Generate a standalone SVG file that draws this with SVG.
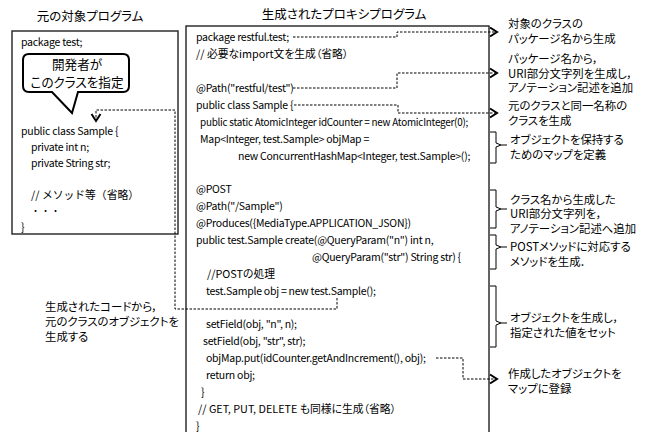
<svg xmlns="http://www.w3.org/2000/svg" width="653" height="432" viewBox="0 0 653 432">
<style>
text{font-family:"Noto Sans CJK JP","Noto Sans",sans-serif;fill:#000;font-feature-settings:"palt";}
.code{font-size:10.5px;letter-spacing:-0.25px;}
.jcode{font-size:10.8px;}
.title{font-size:12.5px;text-anchor:middle;}
.note{font-size:11.4px;}
.call{font-size:12.6px;text-anchor:middle;}
.dots{font-size:9px;font-feature-settings:normal;letter-spacing:1px;}
.box{fill:none;stroke:#222;stroke-width:1.4;}
.dash{fill:none;stroke:#000;stroke-width:1;stroke-dasharray:2.5 1.5;}
.brace{fill:none;stroke:#000;stroke-width:1;}
</style>
<defs>
<marker id="arr" markerUnits="userSpaceOnUse" markerWidth="12" markerHeight="12" viewBox="0 0 12 12" refX="9" refY="6" orient="auto">
<path d="M2,1.5 L9,6 L2,10.5" fill="none" stroke="#000" stroke-width="2"/>
</marker>
</defs>
<rect width="653" height="432" fill="#fff"/>

<g id="original-program">
<text class="title" x="90" y="21">元の対象プログラム</text>
<rect class="box" x="12" y="31" width="166" height="203"/>
<text class="code" x="21" y="46">package test;</text>
<text class="code" x="21" y="135">public class Sample {</text>
<text class="code" x="31" y="151">private int n;</text>
<text class="code" x="31" y="167">private String str;</text>
<text class="jcode" x="31" y="199" style="font-feature-settings:normal">// メソッド等（省略）</text>
<text class="dots" x="31" y="214">・・・</text>
<text class="code" x="21" y="231">}</text>
</g>

<g id="callout">
<path d="M29,54 H123 Q129,54 129,60 V86 Q129,92 123,92 H78 L72,113 L52,92 H29 Q23,92 23,86 V60 Q23,54 29,54 Z" fill="#fff" stroke="#000" stroke-width="2"/>
<text class="call" x="77" y="68.5">開発者が</text>
<text class="call" x="77" y="86.5">このクラスを指定</text>
</g>

<g id="proxy-program">
<text class="title" x="344" y="19">生成されたプロキシプログラム</text>
<rect class="box" x="186" y="26" width="303" height="420"/>
<text class="code" x="196" y="41">package restful.test;</text>
<text class="jcode" x="196" y="58">// 必要なimport文を生成（省略）</text>
<text class="code" x="196" y="92">@Path("restful/test")</text>
<text class="code" x="196" y="109">public class Sample {</text>
<text class="code" x="200" y="126" textLength="268" lengthAdjust="spacingAndGlyphs">public static AtomicInteger idCounter = new AtomicInteger(0);</text>
<text class="code" x="200" y="143">Map&lt;Integer, test.Sample&gt; objMap =</text>
<text class="code" x="238" y="160">new ConcurrentHashMap&lt;Integer, test.Sample&gt;();</text>
<text class="code" x="196" y="193">@POST</text>
<text class="code" x="196" y="210">@Path("/Sample")</text>
<text class="code" x="196" y="227">@Produces({MediaType.APPLICATION_JSON})</text>
<text class="code" x="196" y="244">public test.Sample create(@QueryParam("n") int n,</text>
<text class="code" x="312" y="261">@QueryParam("str") String str) {</text>
<text class="jcode" x="207" y="278">//POSTの処理</text>
<text class="code" x="206" y="295">test.Sample obj = new test.Sample();</text>
<text class="code" x="206" y="328">setField(obj, "n", n);</text>
<text class="code" x="203" y="345">setField(obj, "str", str);</text>
<text class="code" x="206" y="362">objMap.put(idCounter.getAndIncrement(), obj);</text>
<text class="code" x="206" y="379">return obj;</text>
<text class="code" x="201" y="396">}</text>
<text class="jcode" x="198" y="413">// GET, PUT, DELETE も同様に生成（省略）</text>
<text class="code" x="196" y="430">}</text>
</g>

<g id="note-package">
<text class="note" x="508" y="28">対象のクラスの</text>
<text class="note" x="508" y="43">パッケージ名から生成</text>
</g>
<g id="note-path">
<text class="note" x="508" y="63">パッケージ名から，</text>
<text class="note" x="508" y="77.5">URI部分文字列を生成し，</text>
<text class="note" x="508" y="92">アノテーション記述を追加</text>
</g>
<g id="note-class">
<text class="note" x="508" y="110">元のクラスと同一名称の</text>
<text class="note" x="508" y="124.5">クラスを生成</text>
</g>
<g id="note-map">
<path class="brace" d="M490,132 H496 V143 L501,145 H507 M501,145 L496,147 V163 H490"/>
<text class="note" x="510" y="144">オブジェクトを保持する</text>
<text class="note" x="510" y="158.5">ためのマップを定義</text>
</g>
<g id="note-uri">
<path class="brace" d="M490,190 H496 V207 L501,209 H507 M501,209 L496,211 V228 H490"/>
<text class="note" x="510" y="203.5">クラス名から生成した</text>
<text class="note" x="510" y="218">URI部分文字列を，</text>
<text class="note" x="510" y="232.5">アノテーション記述へ追加</text>
</g>
<g id="note-post">
<path class="brace" d="M490,235 H496 V245 L501,247 H507 M501,247 L496,249 V269 H490"/>
<text class="note" x="510" y="251">POSTメソッドに対応する</text>
<text class="note" x="510" y="265.5">メソッドを生成．</text>
</g>
<g id="note-obj">
<path class="brace" d="M490,286 H496 V321 L501,323 H507 M501,323 L496,325 V347 H490"/>
<text class="note" x="510" y="322">オブジェクトを生成し，</text>
<text class="note" x="510" y="337">指定された値をセット</text>
</g>
<g id="note-register">
<text class="note" x="508" y="378">作成したオブジェクトを</text>
<text class="note" x="508" y="393">マップに登録</text>
</g>
<g id="note-generated">
<text class="note" x="45" y="311">生成されたコードから，</text>
<text class="note" x="45" y="326">元のクラスのオブジェクトを</text>
<text class="note" x="45" y="341">生成する</text>
</g>

<g id="connectors">
<path class="dash" d="M293,37 H397 V32 H497" marker-end="url(#arr)"/>
<path class="dash" d="M293,88 H397 V73 H497" marker-end="url(#arr)"/>
<path class="dash" d="M294,105 H398 V113 H497" marker-end="url(#arr)"/>
<path class="dash" d="M436,358 H463 V379 H497" marker-end="url(#arr)"/>
<path class="dash" d="M337,298 V309 H175 V110 H96 V121" marker-end="url(#arr)"/>
</g>
</svg>
